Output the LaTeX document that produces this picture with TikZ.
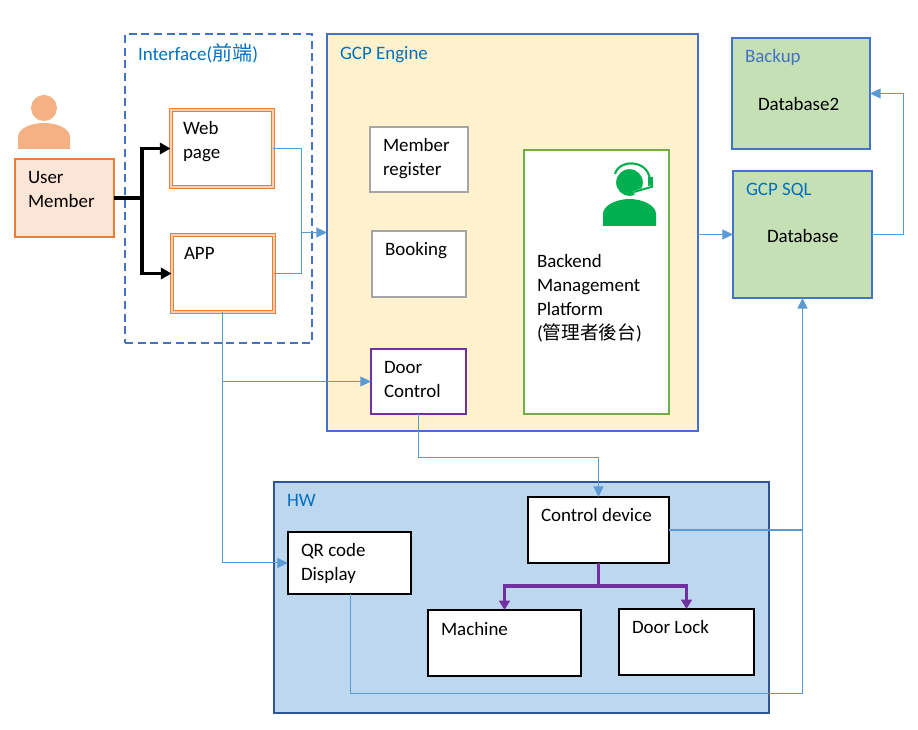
\documentclass[tikz,border=0pt]{standalone}
\usepackage{fontspec}
\setmainfont{Carlito}
\newfontfamily\cjk{Noto Sans CJK TC}
\usetikzlibrary{arrows.meta}
\definecolor{frameblue}{HTML}{4472C4}
\definecolor{linkblue}{HTML}{5B9BD5}
\definecolor{titleblue}{HTML}{0070C0}
\definecolor{orangeline}{HTML}{ED7D31}
\definecolor{orangefill}{HTML}{FBE5D6}
\definecolor{orangesoft}{HTML}{F4B183}
\definecolor{creamfill}{HTML}{FFF2CC}
\definecolor{greenfill}{HTML}{C5E0B4}
\definecolor{greenline}{HTML}{70AD47}
\definecolor{iconheadset}{HTML}{00B050}
\definecolor{hwfill}{HTML}{BDD7EE}
\definecolor{hwline}{HTML}{2F5597}
\definecolor{purpleline}{HTML}{7030A0}
\definecolor{greyline}{HTML}{A5A5A5}
\tikzset{
  x=0.75pt,y=-0.75pt,
  wh/.style 2 args={minimum width=#1*0.75pt,minimum height=#2*0.75pt,inner sep=0pt,outer sep=0pt,anchor=north west,line width=1.5pt},
  userbox/.style={draw=orangeline,fill=orangefill},
  webbox/.style={draw=orangeline,double=orangesoft!60,double distance=1.5pt,line width=0.75pt,fill=white},
  dashbox/.style={draw=frameblue,dash pattern=on 6pt off 3.5pt},
  enginebox/.style={draw=frameblue,fill=creamfill},
  greybox/.style={draw=greyline,fill=white},
  doorbox/.style={draw=purpleline,fill=white},
  backendbox/.style={draw=greenline,fill=white},
  dbbox/.style={draw=frameblue,fill=greenfill},
  hwbox/.style={draw=hwline,fill=hwfill},
  blackbox/.style={draw=black,fill=white},
  txt/.style={font=\fontsize{14.2}{18}\selectfont,align=left,anchor=north west,inner sep=0pt,outer sep=0pt,text=black},
  title/.style={txt,text=titleblue},
  link/.style={draw=linkblue,line width=0.75pt,-{Triangle[length=8pt,width=7.5pt]}},
  linkplain/.style={draw=linkblue,line width=0.75pt},
  boldlink/.style={draw=black,line width=2.5pt,-{Triangle[length=8pt,width=8.5pt]}},
  purplelink/.style={draw=purpleline,line width=2.5pt,-{Triangle[length=7pt,width=8pt]}},
}
\begin{document}
\begin{tikzpicture}
\useasboundingbox (0,0) rectangle (918,730);
% person
\fill[orangesoft] (44,108) circle[radius=9.75pt];
\fill[orangesoft] (18,149) -- (18,137) .. controls (18,128) and (32,123) .. (44,123) .. controls (56,123) and (70,128) .. (70,137) -- (70,149) -- cycle;
% containers
\node[wh={187}{309},dashbox] (iface) at (125,34) {};
\node[wh={371}{397},enginebox] (gcp) at (327,34) {};
\node[wh={495}{231},hwbox] (hw) at (274,482) {};
\node[wh={99}{78},userbox] (user) at (15,159) {};
\node[wh={102}{77},webbox] (web) at (170.5,110) {};
\node[wh={102}{77},webbox] (app) at (171.5,235) {};
\node[wh={98}{65},greybox] (member) at (370,127) {};
\node[wh={94}{66},greybox] (booking) at (372,231) {};
\node[wh={95}{65},doorbox] (door) at (371,349) {};
\node[wh={145}{264},backendbox] (backend) at (524,150) {};
\node[wh={138}{111},dbbox] (backup) at (732,38) {};
\node[wh={139}{127},dbbox] (sql) at (733,171) {};
\node[wh={141}{66},blackbox] (control) at (528,497) {};
\node[wh={123}{62},blackbox] (qr) at (288,532) {};
\node[wh={153}{66},blackbox] (machine) at (428,610) {};
\node[wh={135}{66},blackbox] (lock) at (619,609) {};
% headset agent icon
\fill[iconheadset] (629.5,182.5) circle[radius=10pt];
\fill[iconheadset] (603,226) -- (603,214) .. controls (603,205) and (617,199) .. (629.5,199) .. controls (642,199) and (656,205) .. (656,214) -- (656,226) -- cycle;
\draw[white,line width=1.3pt] (613.5,178) .. controls (615,162) and (646,158) .. (648,178);
\draw[iconheadset,line width=1.6pt] (615,174) .. controls (619,159) and (648,159) .. (650,180);
\fill[iconheadset] (648,177) rectangle (652.5,188);
\draw[white,line width=2.6pt] (651,187) -- (634,193);
\draw[iconheadset,line width=1.5pt] (651,187) -- (634,192);
% texts
\node[txt] (tuser) at (28,171) {User\\Member};
\node[title] (tiface) at (138,44) {Interface({\cjk\fontsize{15}{18}\selectfont 前端})};
\node[txt] (tweb) at (183,121) {Web\\page};
\node[txt] (tapp) at (184,247) {APP};
\node[title] (tgcp) at (340,46) {GCP Engine};
\node[txt] (tmember) at (383,138) {Member\\register};
\node[txt] (tbooking) at (385,242) {Booking};
\node[txt] (tdoor) at (384,361) {Door\\Control};
\node[txt] (tbackend) at (537,254) {Backend\\Management\\Platform\\({\cjk\fontsize{14}{18}\selectfont 管理者後台})};
\node[title,text=frameblue] (tbackup) at (745,49) {Backup};
\node[txt] (tdb2) at (758,97) {Database2};
\node[title] (tsql) at (746,183) {GCP SQL};
\node[txt] (tdb) at (767,229) {Database};
\node[title] (thw) at (287,494) {HW};
\node[txt] (tcontrol) at (541,508) {Control device};
\node[txt] (tqr) at (301,543) {QR code\\Display};
\node[txt] (tmachine) at (441,622) {Machine};
\node[txt] (tlock) at (632,620) {Door Lock};
% junctions
\coordinate (userjoin) at (142,198);
\coordinate (webjoin) at (301.5,232.5);
\coordinate (appbranch) at (222.5,381.5);
\coordinate (doorbend) at (598.5,457.5);
\coordinate (ctrljoin) at (598.5,586);
\coordinate (sqlbend) at (903.5,234.5);
\coordinate (qrdrop) at (350.5,594);
\coordinate (qrbend) at (802.5,693.5);
\coordinate (ctrlbend) at (802.5,530);
% connectors
\draw[boldlink] (user.east) -| (userjoin) |- (web.west);
\draw[boldlink] (user.east) -| (userjoin) |- (app.west);
\draw[linkplain] (web.east) -| (webjoin);
\draw[linkplain] (app.east) -| (webjoin);
\draw[link] (webjoin) -- (gcp.west);
\draw[link] (app.south) |- (qr.west);
\draw[link] (appbranch) -- (door.west);
\draw[link] (door.south) |- (doorbend) -- (control.north);
\draw[link,line width=1.1pt] (control.east) -| (sql.south);
\draw[linkplain] (qrdrop) |- (qrbend) -- (ctrlbend);
\draw[link] (gcp.east |- sql.west) -- (sql.west);
\draw[link] (sql.east) -| (sqlbend) |- (backup.east);
\draw[purplelink] (control.south) |- (ctrljoin) -| (machine.north);
\draw[purplelink] (control.south) |- (ctrljoin) -| (lock.north);
\end{tikzpicture}
\end{document}
